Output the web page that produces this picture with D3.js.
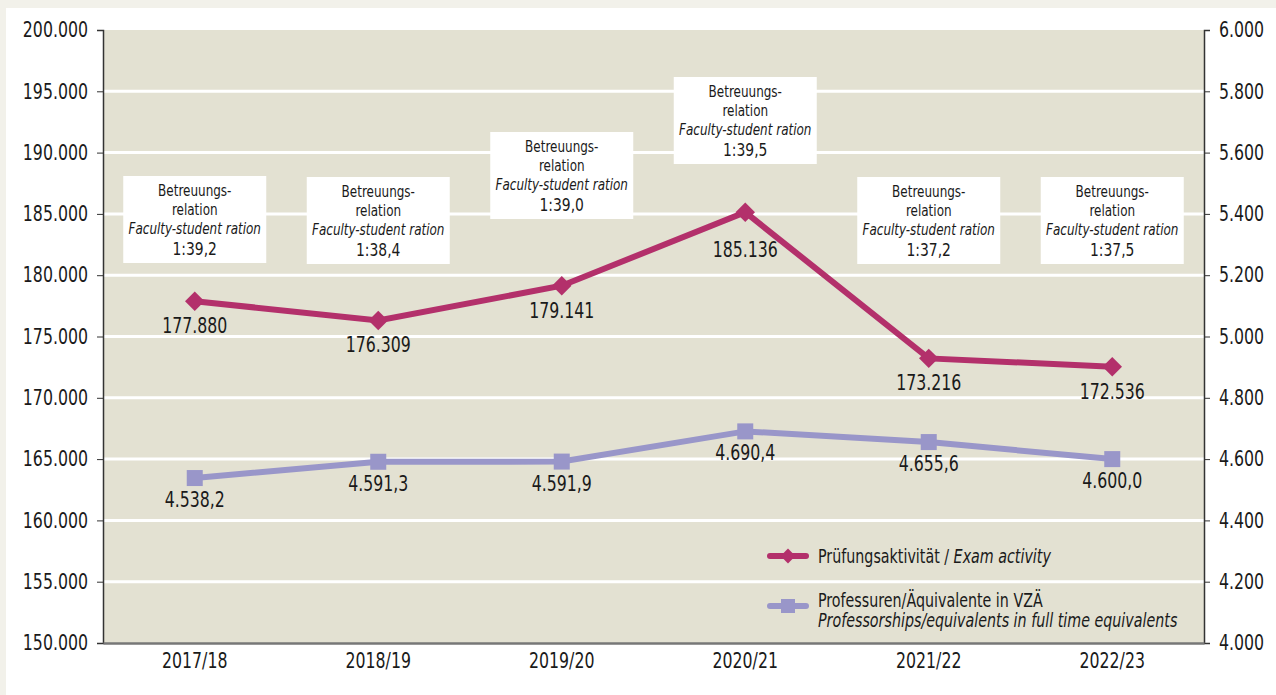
<!DOCTYPE html>
<html>
<head>
<meta charset="utf-8">
<script src="https://cdn.jsdelivr.net/npm/d3@7"></script>
<style>
  html, body { margin: 0; padding: 0; background: #f2f1ea; }
  svg { display: block; }
  text { font-family: "DejaVu Sans Condensed", "DejaVu Sans", sans-serif; fill: #1a1a1a;
         transform-box: fill-box; transform-origin: center; transform: scaleX(0.835); }
  .ax-left text { transform-origin: right center; }
  .ax-right text, .legend text { transform-origin: left center; }
</style>
</head>
<body>
<div id="chart"></div>
<script>
// data
const years = ["2017/18", "2018/19", "2019/20", "2020/21", "2021/22", "2022/23"];
const exams = [177880, 176309, 179141, 185136, 173216, 172536];
const profs = [4538.2, 4591.3, 4591.9, 4690.4, 4655.6, 4600.0];
const ratios = ["1:39,2", "1:38,4", "1:39,0", "1:39,5", "1:37,2", "1:37,5"];
const leftTicks = [150000, 155000, 160000, 165000, 170000, 175000, 180000, 185000, 190000, 195000, 200000];
const rightTicks = [4000, 4200, 4400, 4600, 4800, 5000, 5200, 5400, 5600, 5800, 6000];

const W = 1276, H = 695;
const m = { left: 103, right: 1204, top: 30, bottom: 643 };
const magenta = "#b3306b", lilac = "#9996c9";

const de = d3.formatLocale({ decimal: ",", thousands: ".", grouping: [3], currency: ["", "€"] });
const fInt = de.format(",.0f");
const fDec = de.format(",.1f");

const svg = d3.select("#chart").append("svg").attr("width", W).attr("height", H);

// white panel
svg.append("rect").attr("x", 6).attr("y", 8).attr("width", W - 6).attr("height", H - 8).attr("fill", "#fff");

const x = d3.scaleBand().domain(years).range([m.left, m.right]);
const yL = d3.scaleLinear().domain([150000, 200000]).range([m.bottom, m.top]);
const yR = d3.scaleLinear().domain([4000, 6000]).range([m.bottom, m.top]);
const cx = d => x(d) + x.bandwidth() / 2;

svg.append("rect").attr("x", m.left).attr("y", m.top)
  .attr("width", m.right - m.left).attr("height", m.bottom - m.top).attr("fill", "#e3e1d2");

// grid
svg.append("g").selectAll("line").data(leftTicks.slice(1, -1)).join("line")
  .attr("x1", m.left).attr("x2", m.right)
  .attr("y1", d => yL(d)).attr("y2", d => yL(d))
  .attr("stroke", "#fff").attr("stroke-width", 3);

// axes
const axL = svg.append("g").attr("class", "ax-left").attr("transform", `translate(${m.left},0)`)
  .call(d3.axisLeft(yL).tickValues(leftTicks).tickFormat(fInt).tickSize(6).tickPadding(9));
const axR = svg.append("g").attr("class", "ax-right").attr("transform", `translate(${m.right},0)`)
  .call(d3.axisRight(yR).tickValues(rightTicks).tickFormat(fInt).tickSize(6).tickPadding(9));
[axL, axR].forEach(a => {
  a.select(".domain").attr("stroke", "#333").attr("stroke-width", 1.5);
  a.selectAll(".tick line").attr("stroke", "#333");
  a.selectAll("text").style("font-size", "21px").attr("fill", "#1a1a1a");
});
const axB = svg.append("g").attr("transform", `translate(0,${m.bottom})`)
  .call(d3.axisBottom(x).tickSize(0).tickPadding(10));
axB.select(".domain").attr("stroke", "#777").attr("stroke-width", 2.5);
axB.selectAll("text").style("font-size", "21px").attr("fill", "#1a1a1a");

// annotation boxes
const boxTops = [176, 177, 132, 77, 177, 177];
const boxW = 143, boxH = 87;
const boxes = svg.append("g").selectAll("g").data(years).join("g")
  .attr("transform", (d, i) => `translate(${cx(d) - boxW / 2},${boxTops[i]})`);
boxes.append("rect").attr("width", boxW).attr("height", boxH).attr("fill", "#fff");
boxes.each(function (d, i) {
  const g = d3.select(this);
  const lines = [["Betreuungs-", "normal", 16], ["relation", "normal", 16],
                 ["Faculty-student ration", "italic", 16], [ratios[i], "normal", 18.5]];
  lines.forEach((l, j) => {
    g.append("text").attr("x", boxW / 2).attr("y", 14 + j * 19.2 + (j === 3 ? 1 : 0))
      .attr("text-anchor", "middle").attr("dominant-baseline", "central")
      .style("font-size", l[2] + "px").style("font-style", l[1]).text(l[0]);
  });
});

// lines
const lineL = d3.line().x((d, i) => cx(years[i])).y(d => yL(d));
const lineR = d3.line().x((d, i) => cx(years[i])).y(d => yR(d));

svg.append("path").datum(profs).attr("d", lineR).attr("fill", "none")
  .attr("stroke", lilac).attr("stroke-width", 6);
svg.append("g").selectAll("rect").data(profs).join("rect")
  .attr("x", (d, i) => cx(years[i]) - 8).attr("y", d => yR(d) - 8)
  .attr("width", 16).attr("height", 16).attr("fill", lilac);

svg.append("path").datum(exams).attr("d", lineL).attr("fill", "none")
  .attr("stroke", magenta).attr("stroke-width", 6);
svg.append("g").selectAll("path").data(exams).join("path")
  .attr("d", d3.symbol(d3.symbolSquare, 190))
  .attr("transform", (d, i) => `translate(${cx(years[i])},${yL(d)}) rotate(45)`)
  .attr("fill", magenta);

// value labels
svg.append("g").selectAll("text").data(exams).join("text")
  .attr("x", (d, i) => cx(years[i])).attr("y", (d, i) => yL(d) + (i === 3 ? 38 : 25))
  .attr("text-anchor", "middle").attr("dominant-baseline", "central")
  .style("font-size", "21px").text(d => fInt(d));
svg.append("g").selectAll("text").data(profs).join("text")
  .attr("x", (d, i) => cx(years[i])).attr("y", d => yR(d) + 22)
  .attr("text-anchor", "middle").attr("dominant-baseline", "central")
  .style("font-size", "21px").text(d => fDec(d));

// legend
const lg = svg.append("g").attr("class", "legend").attr("transform", "translate(770,0)");
lg.append("line").attr("x1", 0).attr("x2", 36).attr("y1", 556).attr("y2", 556)
  .attr("stroke", magenta).attr("stroke-width", 6).attr("stroke-linecap", "round");
lg.append("path").attr("d", d3.symbol(d3.symbolSquare, 110))
  .attr("transform", "translate(18,556) rotate(45)").attr("fill", magenta);
lg.append("line").attr("x1", 0).attr("x2", 36).attr("y1", 606).attr("y2", 606)
  .attr("stroke", lilac).attr("stroke-width", 6).attr("stroke-linecap", "round");
lg.append("rect").attr("x", 11).attr("y", 599).attr("width", 14).attr("height", 14).attr("fill", lilac);

const t1 = lg.append("text").attr("x", 48).attr("y", 556).attr("dominant-baseline", "central").style("font-size", "19px");
t1.append("tspan").text("Prüfungsaktivität / ");
t1.append("tspan").style("font-style", "italic").text("Exam activity");
lg.append("text").attr("x", 48).attr("y", 600).attr("dominant-baseline", "central").style("font-size", "19px")
  .text("Professuren/Äquivalente in VZÄ");
lg.append("text").attr("x", 48).attr("y", 620).attr("dominant-baseline", "central").style("font-size", "19px")
  .style("font-style", "italic").text("Professorships/equivalents in full time equivalents");
</script>
</body>
</html>
